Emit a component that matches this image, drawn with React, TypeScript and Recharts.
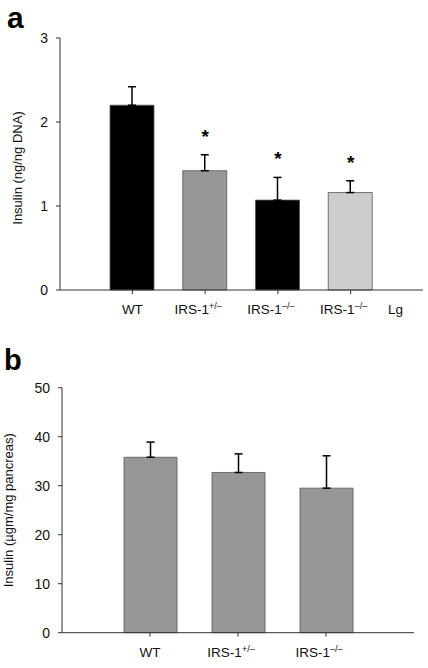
import React from 'react';
import { ComposedChart, Bar, XAxis, YAxis, ErrorBar, Cell, Line } from 'recharts';

// Panel a
const catsA = ['WT', 'IRS-1+/–', 'IRS-1–/–', 'IRS-1–/– Lg'];
const tickBaseA = ['WT', 'IRS-1', 'IRS-1', 'IRS-1'];
const tickSupA = ['', '+/–', '–/–', '–/–'];
const tickSuffixA = ['', '', '', 'Lg'];
const meanA = [2.2, 1.42, 1.07, 1.16];
const semA = [0.22, 0.19, 0.27, 0.14];
const sigA = [false, true, true, true];
const colorsA = ['#000000', '#979797', '#000000', '#cdcdcd'];
const yTicksA = [0, 1, 2, 3];

// Panel b
const catsB = ['WT', 'IRS-1+/–', 'IRS-1–/–'];
const tickBaseB = ['WT', 'IRS-1', 'IRS-1'];
const tickSupB = ['', '+/–', '–/–'];
const meanB = [35.8, 32.7, 29.5];
const semB = [3.1, 3.8, 6.6];
const yTicksB = [0, 10, 20, 30, 40, 50];

const FONT = '"Liberation Sans", Arial, Helvetica, sans-serif';

const dataA = catsA.map((c, i) => ({
  cat: c,
  mean: meanA[i],
  err: [0, semA[i]],
  top: sigA[i] ? meanA[i] + semA[i] : null,
}));
const dataB = catsB.map((c, i) => ({
  cat: c,
  mean: meanB[i],
  err: [0, semB[i]],
}));

const makeTick = (base: string[], sup: string[], suffix: string[], dy: number) => (props: any) => {
  const { x, y, payload } = props;
  const i = payload.index;
  const shift = sup[i] ? -7 : 0;
  return (
    <g>
      <text x={x + shift} y={y + dy} textAnchor="middle" fontSize={13.5} fill="#111" fontFamily={FONT}>
        {base[i]}
        {sup[i] ? (
          <tspan dy={-5} fontSize={9}>{sup[i]}</tspan>
        ) : null}
      </text>
      {suffix[i] ? (
        <text x={x + 45} y={y + dy} textAnchor="middle" fontSize={13.5} fill="#111" fontFamily={FONT}>
          {suffix[i]}
        </text>
      ) : null}
    </g>
  );
};

const yLabel = (text: string, dx: number, size: number, dyc: number) => (props: any) => {
  const { viewBox } = props;
  const cx = viewBox.x + dx;
  const cy = viewBox.y + viewBox.height / 2 + dyc;
  return (
    <text
      x={cx}
      y={cy}
      transform={`rotate(-90, ${cx}, ${cy})`}
      textAnchor="middle"
      dominantBaseline="central"
      fontSize={size}
      fill="#111"
      fontFamily={FONT}
    >
      {text}
    </text>
  );
};

const Star = (props: any) => {
  const { cx, cy, payload } = props;
  if (payload.top == null || cy == null) return <g />;
  return (
    <text x={cx} y={cy - 12} textAnchor="middle" fontSize={19} fontWeight="bold" fill="#000" fontFamily={FONT}>
      *
    </text>
  );
};

const axisTick = { fontSize: 14, fill: '#111', fontFamily: FONT };

export default function App() {
  return (
    <div style={{ position: 'absolute', left: 0, top: 0, width: 428, height: 668, background: '#fff' }}>
      <svg style={{ position: 'absolute', left: 0, top: 0 }} width={428} height={668}>
        <text x={7} y={27.5} fontSize={30} fontWeight="bold" fill="#000" fontFamily={FONT}>a</text>
        <text x={4} y={370} fontSize={29} fontWeight="bold" fill="#000" fontFamily={FONT}>b</text>
      </svg>
      <div style={{ position: 'absolute', left: 0, top: 0 }}>
        <ComposedChart width={428} height={325} data={dataA} margin={{ top: 38, right: 5, bottom: 5, left: 0 }}>
          <XAxis
            dataKey="cat"
            padding={{ left: 36, right: 36 }}
            tickSize={4}
            tickMargin={0}
            stroke="#333"
            tick={makeTick(tickBaseA, tickSupA, tickSuffixA, 20)}
            interval={0}
            height={30}
          />
          <YAxis
            domain={[0, 3]}
            ticks={yTicksA}
            width={60}
            tickSize={4}
            tickMargin={8}
            stroke="#333"
            tick={axisTick}
            label={yLabel('Insulin (ng/ng DNA)', 17, 13, 4)}
          />
          <Bar dataKey="mean" barSize={44} isAnimationActive={false} stroke="#555" strokeWidth={0.8}>
            {dataA.map((d, i) => (
              <Cell key={i} fill={colorsA[i]} />
            ))}
            <ErrorBar dataKey="err" width={4} stroke="#000" strokeWidth={1.5} direction="y" />
          </Bar>
          <Line dataKey="top" stroke="none" dot={<Star />} activeDot={false} isAnimationActive={false} legendType="none" />
        </ComposedChart>
      </div>
      <div style={{ position: 'absolute', left: 0, top: 330 }}>
        <ComposedChart width={428} height={338} data={dataB} margin={{ top: 57.7, right: 14, bottom: 5.3, left: 0 }}>
          <XAxis
            dataKey="cat"
            padding={{ left: 44, right: 44 }}
            tickSize={4}
            tickMargin={0}
            stroke="#333"
            tick={makeTick(tickBaseB, tickSupB, ['', '', ''], 20)}
            interval={0}
            height={30}
          />
          <YAxis
            domain={[0, 50]}
            ticks={yTicksB}
            width={62}
            tickSize={4}
            tickMargin={8}
            stroke="#333"
            tick={axisTick}
            label={yLabel('Insulin (µgm/mg pancreas)', 9, 13, 0)}
          />
          <Bar dataKey="mean" barSize={53} isAnimationActive={false} fill="#979797" stroke="#555" strokeWidth={0.8}>
            <ErrorBar dataKey="err" width={4} stroke="#000" strokeWidth={1.5} direction="y" />
          </Bar>
        </ComposedChart>
      </div>
    </div>
  );
}
